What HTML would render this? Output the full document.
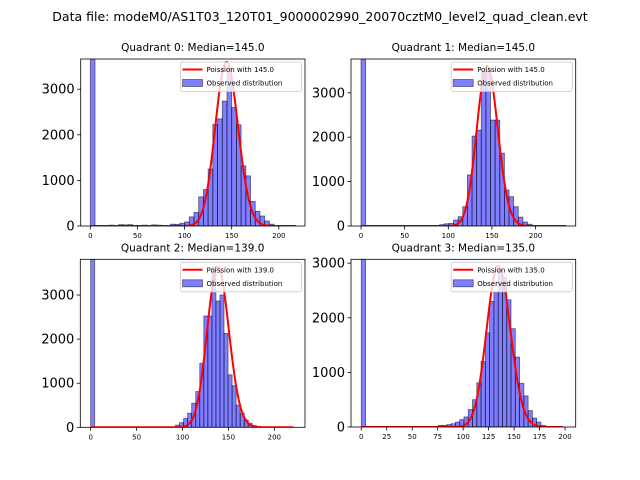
<!DOCTYPE html>
<html><head><meta charset="utf-8"><style>
html,body{margin:0;padding:0;background:#fff;}
svg{display:block;font-family:"DejaVu Sans","Liberation Sans",sans-serif;}
</style></head><body>
<svg id="fig" width="640" height="480" viewBox="0 0 640 480">
<rect x="0" y="0" width="640" height="480" fill="#fff"/>
<text x="320" y="21" font-size="12.5" text-anchor="middle">Data file: modeM0/AS1T03_120T01_9000002990_20070cztM0_level2_quad_clean.evt</text>
</svg>
<script>
// ---- data ----
const q0Lefts = [0,20,30,35,40,55,65,70,85,90,95,100,105,110,115,120,125,130,135,140,145,150,155,160,165,170,175,180,185,190,195];
const q0Counts = [5000,20,30,25,30,20,25,20,40,35,60,90,200,300,640,800,1250,2230,2350,2740,3460,2600,2220,1320,1100,540,320,220,110,40,10];
const q1Lefts = [0,90.1,95.4,100.7,106,111.3,116.6,121.9,127.2,132.5,137.8,143.1,148.4,153.7,159,164.3,169.6,174.9,180.2,185.5,190.8];
const q1Counts = [5000,30,50,60,135,210,435,1150,2025,2160,3470,3480,2385,2385,1640,810,660,435,200,90,40];
const q2Lefts = [0,92.4,96.8,101.2,105.6,110,114.4,118.8,123.2,127.6,132,136.4,140.8,145.2,149.6,154,158.4,162.8,167.2,171.6,176,180.4];
const q2Counts = [5000,50,105,200,320,545,810,1450,2525,2525,3640,2865,3000,2130,1190,945,505,320,165,90,40,15];
const q3Lefts = [0,75.6,79.8,84,88.2,92.4,96.6,100.8,105,109.2,113.4,117.6,121.8,126,130.2,134.4,138.6,142.8,147,151.2,155.4,159.6,163.8,168,172.2,176.4];
const q3Counts = [5000,30,30,45,60,90,135,185,320,500,810,1200,1725,2300,2470,2870,2745,2330,1800,1280,800,570,300,165,90,30];
const binWidths = [5, 5.3, 4.4, 4.2];
const medians = [145.0, 145.0, 139.0, 135.0];
const curvePeaks = [3600, 3600, 3640, 2950];
const curveMax = [218, 235, 221, 198];
const xTicks012 = [0,50,100,150,200];
const xTicks3 = [0,25,50,75,100,125,150,175,200];
const yTicks = [0,1000,2000,3000];

const panels = [
 {lefts:q0Lefts,counts:q0Counts,box:[80.7,59,305,226],xr:[-10.2,227.8],yr:[0,3662],xt:xTicks012},
 {lefts:q1Lefts,counts:q1Counts,box:[351,59,575.7,226],xr:[-11.5,246],yr:[0,3761],xt:xTicks012},
 {lefts:q2Lefts,counts:q2Counts,box:[80.3,259.3,305,427.3],xr:[-11.3,233.4],yr:[0,3810],xt:xTicks012},
 {lefts:q3Lefts,counts:q3Counts,box:[351,259.3,575.7,427],xr:[-10.1,210.5],yr:[0,3071],xt:xTicks3}
];
const NS="http://www.w3.org/2000/svg";
const fig=document.getElementById('fig');
function mk(tag,attrs,parent){const e=document.createElementNS(NS,tag);for(const k in attrs)e.setAttribute(k,attrs[k]);(parent||fig).appendChild(e);return e;}
function logFact(n){let s=0;for(let i=2;i<=n;i++)s+=Math.log(i);return s;}

panels.forEach((p,i)=>{
  const [x0,y0,x1,y1]=p.box;
  const sx=v=>x0+(v-p.xr[0])/(p.xr[1]-p.xr[0])*(x1-x0);
  const sy=v=>y1-(v-p.yr[0])/(p.yr[1]-p.yr[0])*(y1-y0);
  const g=mk('g',{});
  
  
  const cid='clip'+i;
  const cp=mk('clipPath',{id:cid},g);mk('rect',{x:x0,y:y0,width:x1-x0,height:y1-y0},cp);
  const plot=mk('g',{'clip-path':'url(#'+cid+')'},g);
  p.lefts.forEach((l,j)=>{
    const c=p.counts[j];
    const r=mk('rect',{x:sx(l),y:sy(c),width:sx(l+binWidths[i])-sx(l),height:sy(0)-sy(c),fill:'rgba(0,0,255,0.5)',stroke:'rgba(0,0,0,0.55)','stroke-width':'0.8'},plot);
    
    
  });
  // poisson curve
  const lam=medians[i];const peakPmf=Math.exp(Math.floor(lam)*Math.log(lam)-lam-logFact(Math.floor(lam)));
  let d='';
  for(let k=0;k<=curveMax[i];k++){
    const pm=Math.exp(k*Math.log(Math.max(lam,1e-9))-lam-logFact(k));
    const v=pm/peakPmf*curvePeaks[i];
    d+=(k?'L':'M')+sx(k).toFixed(2)+' '+sy(v).toFixed(2);
  }
  const ln=mk('path',{d:d,fill:'none',stroke:'#ff0000','stroke-width':'2','stroke-linejoin':'round'},plot);
  
  
  // spines
  mk('rect',{x:x0,y:y0,width:x1-x0,height:y1-y0,fill:'none',stroke:'#000','stroke-width':'0.8'},g);
  // y ticks
  yTicks.forEach(t=>{
    if(t>p.yr[1])return;
    const y=sy(t);
    mk('line',{x1:x0-3.5,y1:y,x2:x0,y2:y,stroke:'#000','stroke-width':'0.8'},g);
    const tx=mk('text',{x:x0-6,y:y+4.5,'font-size':'13','text-anchor':'end'},g);tx.textContent=t;
    
    
  });
  p.xt.forEach(t=>{
    const x=sx(t);
    mk('line',{x1:x,y1:y1,x2:x,y2:y1+3.5,stroke:'#000','stroke-width':'0.8'},g);
    const tx=mk('text',{x:x,y:y1+12,'font-size':'7','text-anchor':'middle'},g);tx.textContent=t;
    
    
  });
  const ti=mk('text',{x:(x0+x1)/2,y:y0-8,'font-size':'10.5','text-anchor':'middle'},g);
  ti.textContent='Quadrant '+i+': Median='+medians[i].toFixed(1);
  
  
  // legend
  const lg=mk('g',{},g);
  
  
  const lx=x1-124.5, ly=y0+3;
  mk('rect',{x:lx,y:ly,width:121,height:29.5,rx:2,fill:'rgba(255,255,255,0.8)',stroke:'#ccc','stroke-width':'0.8'},lg);
  mk('line',{x1:lx+2,y1:ly+7.5,x2:lx+22,y2:ly+7.5,stroke:'#ff0000','stroke-width':'2'},lg);
  const t1=mk('text',{x:lx+26,y:ly+10,'font-size':'7'},lg);t1.textContent='Poission with '+medians[i].toFixed(1);
  
  
  mk('rect',{x:lx+2,y:ly+17.5,width:20,height:7,fill:'rgba(0,0,255,0.5)',stroke:'rgba(0,0,0,0.55)','stroke-width':'0.8'},lg);
  const t2=mk('text',{x:lx+26,y:ly+23.5,'font-size':'7'},lg);t2.textContent='Observed distribution';
  
  
});
</script>
</body></html>
